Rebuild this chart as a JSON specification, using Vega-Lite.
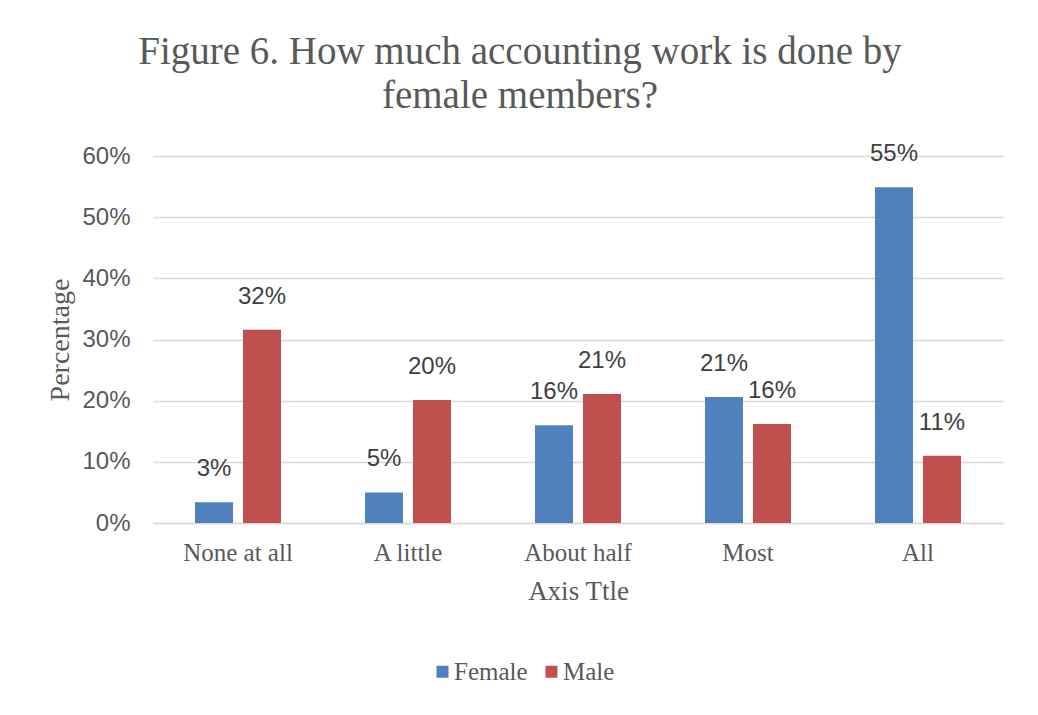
{
  "$schema": "https://vega.github.io/schema/vega-lite/v6.json",
  "width": 850,
  "height": 367,
  "autosize": {"type": "none"},
  "padding": {"left": 153, "top": 156, "right": 35, "bottom": 192},
  "background": "white",
  "title": {
    "text": ["Figure 6. How much accounting work is done by", "female members?"],
    "font": "Liberation Serif",
    "fontSize": 39,
    "fontWeight": "normal",
    "color": "#595959",
    "anchor": "middle",
    "frame": "group",
    "dx": -58,
    "lineHeight": 44,
    "offset": 26
  },
  "data": {
    "values": [
      {"category": "None at all", "gender": "Female", "value": 0.034},
      {"category": "None at all", "gender": "Male", "value": 0.316},
      {"category": "A little", "gender": "Female", "value": 0.05},
      {"category": "A little", "gender": "Male", "value": 0.201},
      {"category": "About half", "gender": "Female", "value": 0.16},
      {"category": "About half", "gender": "Male", "value": 0.211},
      {"category": "Most", "gender": "Female", "value": 0.206},
      {"category": "Most", "gender": "Male", "value": 0.162},
      {"category": "All", "gender": "Female", "value": 0.549},
      {"category": "All", "gender": "Male", "value": 0.11}
    ]
  },
  "encoding": {
    "x": {
      "field": "category",
      "type": "nominal",
      "sort": ["None at all", "A little", "About half", "Most", "All"],
      "scale": {"paddingInner": 0, "paddingOuter": 0},
      "axis": {
        "labelAngle": 0,
        "domain": true,
        "domainColor": "#d9d9d9",
        "domainWidth": 1.5,
        "ticks": false,
        "labelFont": "Liberation Serif",
        "labelFontSize": 25,
        "labelColor": "#595959",
        "labelPadding": 17,
        "title": "Axis Ttle",
        "titleFont": "Liberation Serif",
        "titleFontSize": 27,
        "titleFontWeight": "normal",
        "titleColor": "#595959",
        "titlePadding": 13
      }
    },
    "xOffset": {
      "field": "gender",
      "type": "nominal",
      "scale": {"paddingInner": 0.2083, "paddingOuter": 0.875}
    },
    "y": {
      "field": "value",
      "type": "quantitative",
      "scale": {"domain": [0, 0.6], "nice": false},
      "axis": {
        "values": [0, 0.1, 0.2, 0.3, 0.4, 0.5, 0.6],
        "format": ".0%",
        "grid": true,
        "gridColor": "#d9d9d9",
        "gridWidth": 1.3,
        "domain": false,
        "ticks": false,
        "labelPadding": 23,
        "labelFont": "Liberation Sans",
        "labelFontSize": 24,
        "labelColor": "#595959",
        "title": "Percentage",
        "titleFont": "Liberation Serif",
        "titleFontSize": 28,
        "titleFontWeight": "normal",
        "titleColor": "#595959",
        "titlePadding": 7
      }
    }
  },
  "layer": [
    {
      "mark": {"type": "bar"},
      "encoding": {
        "color": {
          "field": "gender",
          "type": "nominal",
          "scale": {"domain": ["Female", "Male"], "range": ["#4f81bd", "#c0504d"]},
          "legend": {
            "orient": "none",
            "legendX": 277,
            "legendY": 503,
            "direction": "horizontal",
            "title": null,
            "labelFont": "Liberation Serif",
            "labelFontSize": 25,
            "labelColor": "#595959",
            "symbolType": "square",
            "symbolSize": 144,
            "symbolStrokeWidth": 0,
            "columnPadding": 11,
            "labelOffset": -1
          }
        }
      }
    },
    {
      "mark": {
        "type": "text",
        "dy": -33,
        "baseline": "middle",
        "font": "Liberation Sans",
        "fontSize": 24,
        "color": "#404040"
      },
      "encoding": {
        "text": {"field": "value", "type": "quantitative", "format": ".0%"}
      }
    }
  ],
  "config": {"view": {"stroke": null}}
}
